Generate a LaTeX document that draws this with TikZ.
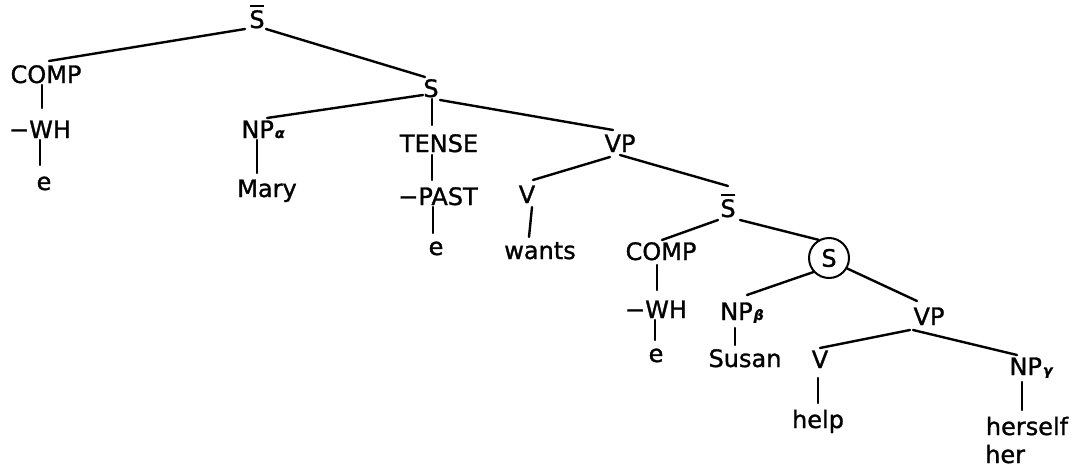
\documentclass[tikz,border=0pt]{standalone}
\usepackage{fontspec}
\newfontfamily\treefam[FakeBold=1.2]{DejaVu Sans}
\newcommand\treefont{\treefam\fontsize{24}{28}\selectfont}
\newcommand\grsub[1]{{\fontsize{14}{14}\selectfont\bfseries\itshape\kern1pt #1}}
\newcommand\sbarlab{\ooalign{S\cr\hidewidth\rule[21pt]{14pt}{2.2pt}\hidewidth\cr}}
\begin{document}
\begin{tikzpicture}[x=1pt,y=-1pt,
  lbl/.style={font=\treefont, inner sep=0pt, anchor=base},
  edge/.style={line width=2.4pt, line cap=round},
  circnode/.style={draw, circle, line width=2pt, minimum size=40pt, inner sep=0pt, font=\treefont}]
\useasboundingbox (0,0) rectangle (1090,471);
% nodes
\node[lbl] (sbar1) at (257,28) {\sbarlab};
\node[lbl] (comp1) at (46,83) {COMP};
\node[lbl] (wh1) at (40,138) {−WH};
\node[lbl] (e1) at (44,190) {e};
\node[lbl] (s1) at (431,97) {S};
\node[lbl] (npa) at (263,138) {NP\grsub{α}};
\node[lbl] (mary) at (267,197) {Mary};
\node[lbl] (tense) at (439,152) {TENSE};
\node[lbl] (past) at (438,205) {−PAST};
\node[lbl] (e2) at (436,255) {e};
\node[lbl] (vp1) at (620,152) {VP};
\node[lbl] (v1) at (527,203) {V};
\node[lbl] (wants) at (540,259) {wants};
\node[lbl] (sbar2) at (728,217) {\sbarlab};
\node[lbl] (comp2) at (661,260) {COMP};
\node[circnode] (circ) at (829,258) {S};
\node[lbl] (wh2) at (656,318) {−WH};
\node[lbl] (e3) at (656,362) {e};
\node[lbl] (npb) at (742,320) {NP\grsub{β}};
\node[lbl] (susan) at (745,367) {Susan};
\node[lbl] (vp2) at (929,325) {VP};
\node[lbl] (v2) at (820,368) {V};
\node[lbl] (help) at (818,428) {help};
\node[lbl] (npg) at (1031,375) {NP\grsub{γ}};
\node[lbl] (herself) at (1027,435) {herself};
\node[lbl, anchor=base west] (her) at (985,463) {her};
% edges
\draw[edge] ([shift={(-12,1)}]sbar1.base) -- ([shift={(3,-22)}]comp1.base);
\draw[edge] ([shift={(9,1)}]sbar1.base) -- ([shift={(-6,-20)}]s1.base);
\draw[edge] ([shift={(-4,2)}]comp1.base) -- ([shift={(2,-30)}]wh1.base);
\draw[edge] ([shift={(0,2)}]wh1.base) -- ([shift={(-4,-25)}]e1.base);
\draw[edge] ([shift={(-8,-2)}]s1.base) -- ([shift={(4,-20)}]npa.base);
\draw[edge] ([shift={(1,2)}]s1.base) -- ([shift={(-7,-27)}]tense.base);
\draw[edge] ([shift={(9,3)}]s1.base) -- ([shift={(-7,-22)}]vp1.base);
\draw[edge] ([shift={(-6,2)}]npa.base) -- ([shift={(-10,-24)}]mary.base);
\draw[edge] ([shift={(-7,3)}]tense.base) -- ([shift={(-6,-25)}]past.base);
\draw[edge] ([shift={(-5,2)}]past.base) -- ([shift={(-3,-22)}]e2.base);
\draw[edge] ([shift={(-10,5)}]vp1.base) -- ([shift={(6,-23)}]v1.base);
\draw[edge] ([shift={(0,3)}]vp1.base) -- ([shift={(0,-31)}]sbar2.base);
\draw[edge] ([shift={(5,4)}]v1.base) -- ([shift={(-11,-22)}]wants.base);
\draw[edge] ([shift={(-10,3)}]sbar2.base) -- ([shift={(1,-20)}]comp2.base);
\draw[edge] ([shift={(12,3)}]sbar2.base) -- (circ.120);
\draw[edge] ([shift={(-4,5)}]comp2.base) -- ([shift={(1,-28)}]wh2.base);
\draw[edge] ([shift={(-1,2)}]wh2.base) -- ([shift={(-1,-22)}]e3.base);
\draw[edge] (circ.222) -- ([shift={(5,-25)}]npb.base);
\draw[edge] (circ.-30) -- ([shift={(-12,-24)}]vp2.base);
\draw[edge] ([shift={(-7,8)}]npb.base) -- ([shift={(-10,-22)}]susan.base);
\draw[edge] ([shift={(-19,5)}]vp2.base) -- ([shift={(0,-20)}]v2.base);
\draw[edge] ([shift={(-16,5)}]vp2.base) -- ([shift={(-14,-20)}]npg.base);
\draw[edge] ([shift={(-2,10)}]v2.base) -- ([shift={(0,-25)}]help.base);
\draw[edge] ([shift={(-9,7)}]npg.base) -- ([shift={(-5,-25)}]herself.base);
\end{tikzpicture}
\end{document}
